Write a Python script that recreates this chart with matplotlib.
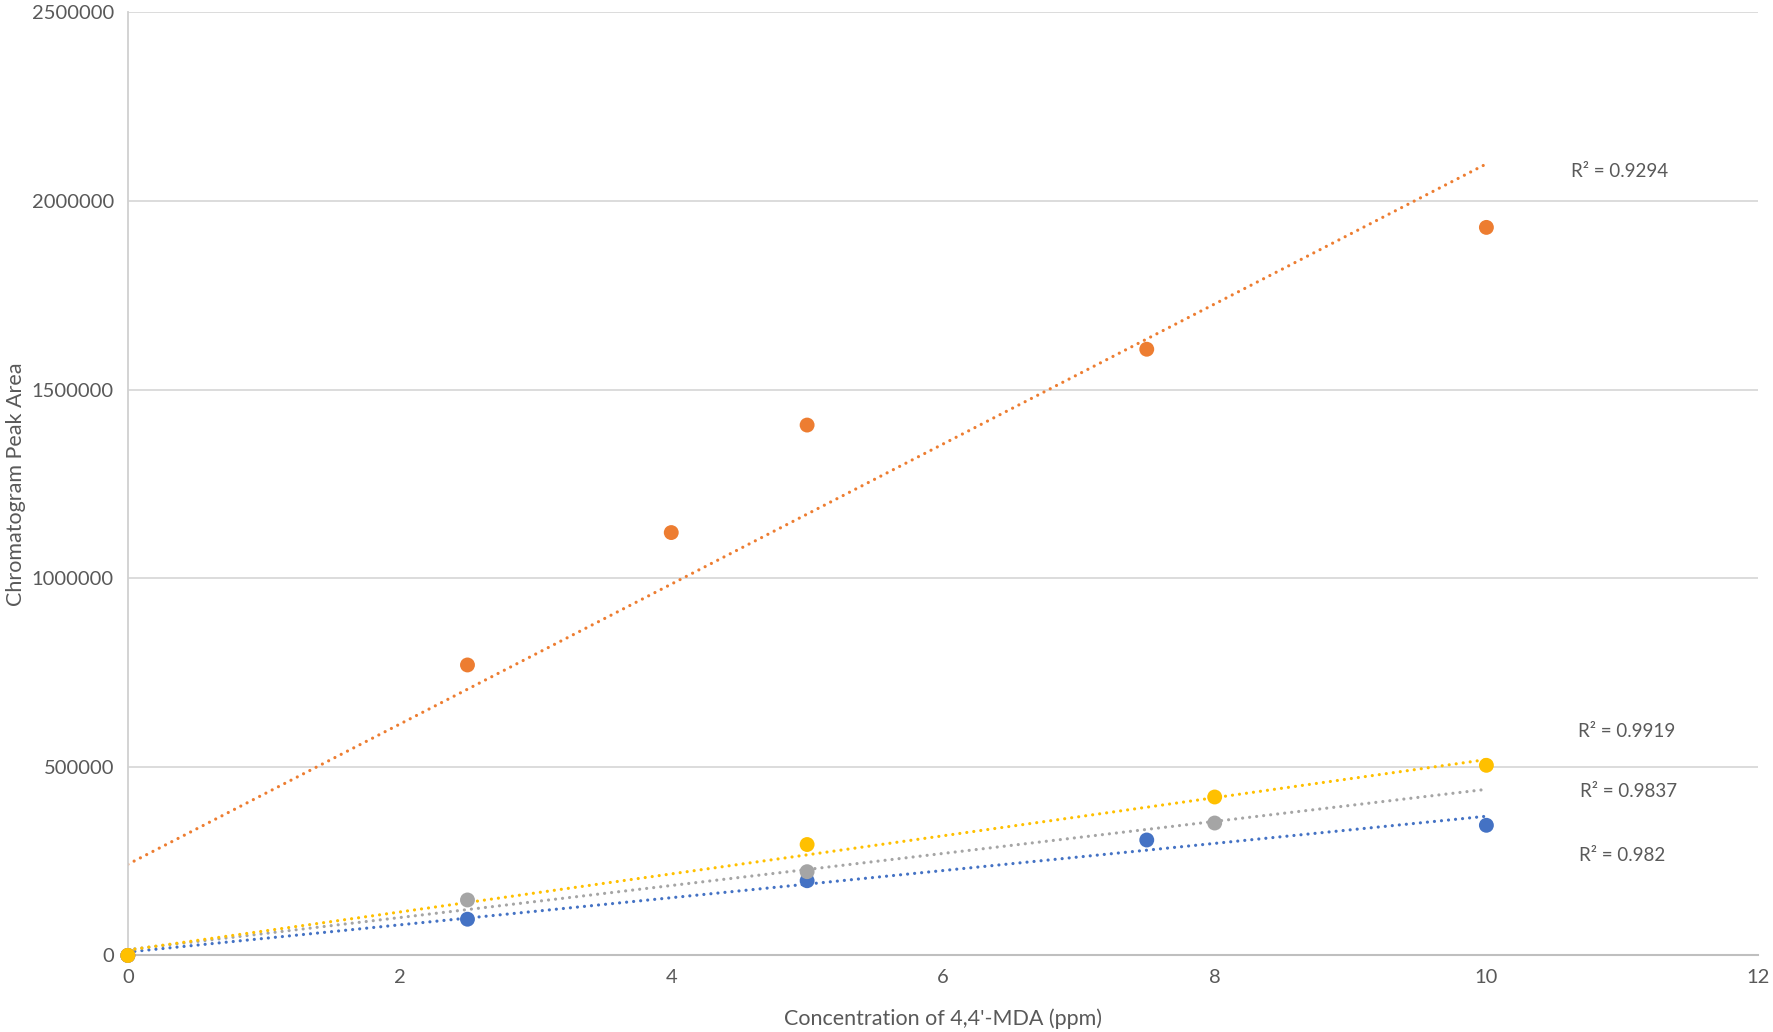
import numpy as np
import matplotlib
matplotlib.use("Agg")
import matplotlib.pyplot as plt

# Data
x_blue = [0, 2.5, 5, 7.5, 10]
y_blue = [0, 96000, 198000, 306000, 345000]
x_orange = [0, 2.5, 4, 5, 7.5, 10]
y_orange = [0, 770000, 1121000, 1406000, 1607000, 1930000]
x_gray = [0, 2.5, 5, 8]
y_gray = [0, 147000, 222000, 351000]
x_yellow = [0, 5, 8, 10]
y_yellow = [0, 294000, 420000, 504000]

r2_labels = ["R² = 0.982", "R² = 0.9294", "R² = 0.9837", "R² = 0.9919"]
r2_pos = [(11.0, 264000), (10.98, 2077000), (11.05, 435000), (11.03, 594000)]

colors = ["#4472C4", "#ED7D31", "#A5A5A5", "#FFC000"]
series = [(x_blue, y_blue), (x_orange, y_orange), (x_gray, y_gray), (x_yellow, y_yellow)]

plt.rcParams['font.family'] = ['Lato', 'DejaVu Sans']

fig = plt.figure(figsize=(17.73, 10.32), dpi=100)
ax = fig.add_axes([0.0721, 0.0742, 0.9916 - 0.0721, 0.988 - 0.0742])

text_color = "#595959"

for (xs, ys), c in zip(series, colors):
    ax.scatter(xs, ys, s=115, color=c, zorder=3, edgecolors='none', clip_on=False)
for (xs, ys), c in zip(series, colors):
    k, b = np.polyfit(xs, ys, 1)
    xt = np.array([0, 10])
    ax.plot(xt, k * xt + b, color=c, lw=2.3, linestyle=(0, (0.01, 2.2)),
            dash_capstyle='round', zorder=2)

for lab, (tx, ty) in zip(r2_labels, r2_pos):
    ax.text(tx, ty, lab, ha='center', va='center', fontsize=13.5, color=text_color)

ax.set_xlim(0, 12)
ax.set_ylim(0, 2500000)
ax.set_xticks(np.arange(0, 13, 2))
ax.set_yticks(np.arange(0, 2500001, 500000))
ax.yaxis.set_major_formatter(matplotlib.ticker.FuncFormatter(lambda v, p: f"{int(v)}"))
ax.tick_params(length=0, labelsize=14.5, colors=text_color, pad=10)
ax.grid(axis='y', color='#D9D9D9', lw=1.3)
ax.set_axisbelow(True)
for s in ['top', 'right']:
    ax.spines[s].set_visible(False)
ax.spines['left'].set_color('#D0D0D0')
ax.spines['left'].set_linewidth(1.3)
ax.spines['bottom'].set_color('#BFBFBF')
ax.spines['bottom'].set_linewidth(1.5)

ax.set_xlabel("Concentration of 4,4'-MDA (ppm)", fontsize=15.5, color=text_color, labelpad=16)
ax.set_ylabel("Chromatogram Peak Area", fontsize=15.5, color=text_color, labelpad=4)

fig.savefig("out.png", dpi=100, facecolor='white')
